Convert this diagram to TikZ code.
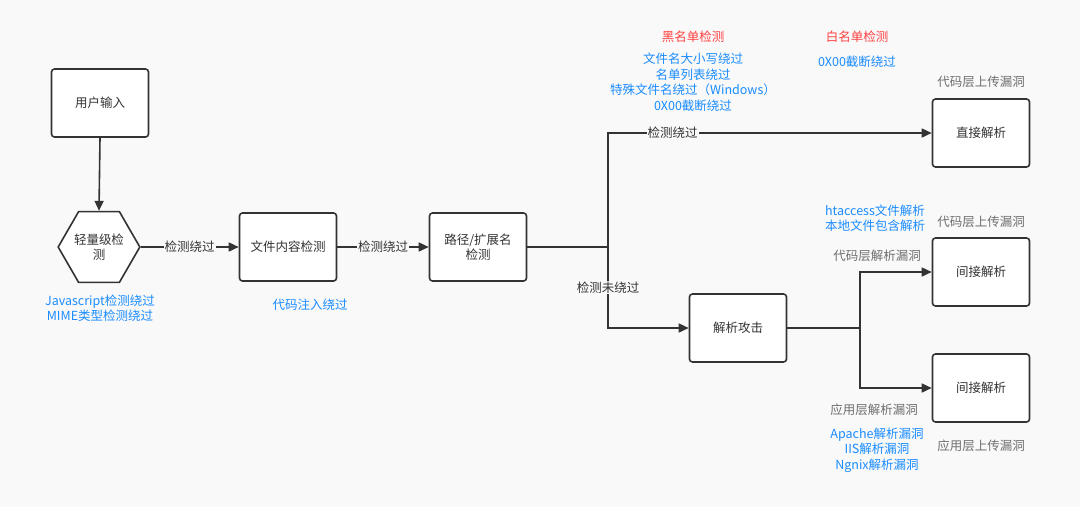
\documentclass[tikz,border=0pt]{standalone}
\usepackage{fontspec}
\setmainfont{Noto Sans CJK SC}
\usetikzlibrary{shapes.geometric,arrows.meta}
\definecolor{bg}{HTML}{F9F9F9}
\definecolor{ln}{HTML}{333333}
\definecolor{bl}{HTML}{1A8CFF}
\definecolor{rd}{HTML}{FF4040}
\definecolor{gr}{HTML}{6E6E6E}
\tikzset{
  box/.style={draw=ln, line width=1.6pt, fill=white, rounded corners=3pt, minimum width=97pt, minimum height=68pt, text=ln, align=center, font=\fontsize{12.5}{15}\selectfont},
  hexa/.style={draw=ln, line width=1.6pt, fill=white, regular polygon, regular polygon sides=6, shape border rotate=0, minimum size=86pt, text=ln, align=center, font=\fontsize{12.5}{15}\selectfont, inner sep=0pt},
  conn/.style={draw=ln, line width=1.6pt, -{Triangle[length=10pt,width=9pt]}},
  plain/.style={draw=ln, line width=1.6pt},
  elab/.style={fill=bg, inner sep=1pt, text=ln, font=\fontsize{12.5}{15}\selectfont},
  bluet/.style={text=bl, align=center, font=\fontsize{12.5}{15.5}\selectfont},
  redt/.style={text=rd, align=center, font=\fontsize{12.5}{15}\selectfont},
  grayt/.style={text=gr, align=center, font=\fontsize{12.5}{15}\selectfont},
}
\begin{document}
\begin{tikzpicture}[x=1pt,y=-1pt]
\path[fill=bg] (0,0) rectangle (1080,507);
\useasboundingbox (0,0) rectangle (1080,507);

\node[box] (user) at (100,103) {用户输入};
\node[hexa, minimum size=80pt] (light) at (99,247) {轻量级检\\测};
\node[box] (content) at (288,247) {文件内容检测};
\node[box] (path) at (478,247) {路径/扩展名\\检测};
\node[box] (direct) at (981,133) {直接解析};
\node[box] (ind1) at (981,272) {间接解析};
\node[box] (ind2) at (981,388) {间接解析};
\node[box] (attack) at (738,328) {解析攻击};

\coordinate (split) at (608,247);
\coordinate (up) at (608,133);
\coordinate (down) at (608,328);
\coordinate (split2) at (860,328);
\coordinate (up2) at (860,272);
\coordinate (down2) at (860,388);

\draw[conn] (user.south) -- (light.north);
\draw[conn] (light.east) -- node[elab]{检测绕过} (content.west);
\draw[conn] (content.east) -- node[elab]{检测绕过} (path.west);
\draw[plain] (path.east) -- (split);
\draw[conn] (split) -- (up) -- node[elab, pos=0.2]{检测绕过} (direct.west);
\draw[conn] (split) -- node[elab, pos=0.5]{检测未绕过} (down) -- (attack.west);
\draw[plain] (attack.east) -- (split2);
\draw[conn] (split2) -- (up2) -- (ind1.west);
\draw[conn] (split2) -- (down2) -- (ind2.west);

\node[redt] (black) at (693,37) {黑名单检测};
\node[bluet] (blist) at (693,82) {文件名大小写绕过\\名单列表绕过\\特殊文件名绕过（Windows）\\0X00截断绕过};
\node[redt] (white) at (857,37) {白名单检测};
\node[bluet] (wlist) at (857,62) {0X00截断绕过};
\node[grayt] (g1) at (981,82) {代码层上传漏洞};
\node[bluet] (ht) at (875,218) {htaccess文件解析\\本地文件包含解析};
\node[grayt] (g2) at (981,222) {代码层上传漏洞};
\node[grayt] (g3) at (877,256) {代码层解析漏洞};
\node[grayt] (g4) at (874,410) {应用层解析漏洞};
\node[bluet] (apps) at (877,450) {Apache解析漏洞\\IIS解析漏洞\\Ngnix解析漏洞};
\node[grayt] (g5) at (981,446) {应用层上传漏洞};
\node[bluet] (js) at (100,308) {Javascript检测绕过\\MIME类型检测绕过};
\node[bluet] (ci) at (310,305) {代码注入绕过};
\end{tikzpicture}
\end{document}
